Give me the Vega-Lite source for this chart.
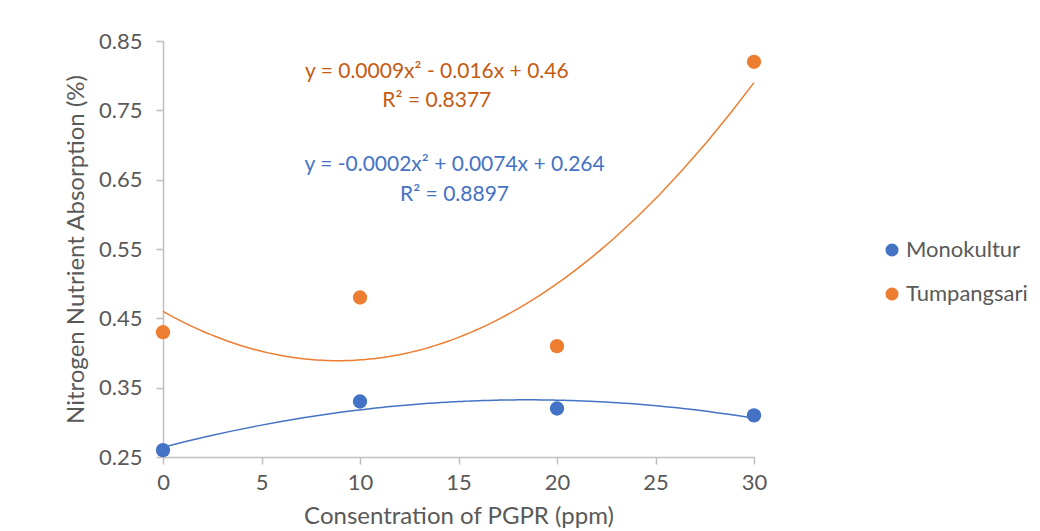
{
  "$schema": "https://vega.github.io/schema/vega-lite/v6.json",
  "autosize": {"type": "none"},
  "padding": {"left": 163, "top": 41, "right": 286, "bottom": 74},
  "width": 591,
  "height": 416,
  "background": "white",
  "config": {
    "view": {"stroke": null},
    "font": "Lato",
    "axis": {
      "grid": false,
      "domainColor": "#bfbfbf",
      "tickColor": "#bfbfbf",
      "domainWidth": 1.5,
      "tickWidth": 1.5,
      "tickSize": 7,
      "labelColor": "#595959",
      "titleColor": "#595959",
      "labelFont": "Lato",
      "titleFont": "Lato",
      "labelFontSize": 22,
      "titleFontSize": 24,
      "titleFontWeight": "normal",
      "labelFlush": false
    },
    "legend": {"labelFont": "Lato"}
  },
  "datasets": {
    "pts": [
      {"ppm": 0, "val": 0.26, "series": "Monokultur"},
      {"ppm": 10, "val": 0.33, "series": "Monokultur"},
      {"ppm": 20, "val": 0.32, "series": "Monokultur"},
      {"ppm": 30, "val": 0.31, "series": "Monokultur"},
      {"ppm": 0, "val": 0.43, "series": "Tumpangsari"},
      {"ppm": 10, "val": 0.48, "series": "Tumpangsari"},
      {"ppm": 20, "val": 0.41, "series": "Tumpangsari"},
      {"ppm": 30, "val": 0.82, "series": "Tumpangsari"}
    ]
  },
  "layer": [
    {
      "data": {"name": "pts"},
      "transform": [
        {"filter": "datum.series === 'Monokultur'"},
        {"regression": "val", "on": "ppm", "method": "poly", "order": 2, "extent": [0, 30]}
      ],
      "mark": {"type": "line", "color": "#4472C4", "strokeWidth": 1.5},
      "encoding": {
        "x": {"field": "ppm", "type": "quantitative"},
        "y": {"field": "val", "type": "quantitative"}
      }
    },
    {
      "data": {"name": "pts"},
      "transform": [
        {"filter": "datum.series === 'Tumpangsari'"},
        {"regression": "val", "on": "ppm", "method": "poly", "order": 2, "extent": [0, 30]}
      ],
      "mark": {"type": "line", "color": "#ED7D31", "strokeWidth": 1.5},
      "encoding": {
        "x": {"field": "ppm", "type": "quantitative"},
        "y": {"field": "val", "type": "quantitative"}
      }
    },
    {
      "data": {"name": "pts"},
      "mark": {"type": "circle", "size": 205, "opacity": 1},
      "encoding": {
        "x": {
          "field": "ppm", "type": "quantitative",
          "scale": {"domain": [0, 30], "nice": false, "zero": false},
          "axis": {"values": [0, 5, 10, 15, 20, 25, 30], "title": "Consentration of PGPR (ppm)", "labelPadding": 8, "titlePadding": 11}
        },
        "y": {
          "field": "val", "type": "quantitative",
          "scale": {"domain": [0.25, 0.85], "nice": false, "zero": false},
          "axis": {"values": [0.25, 0.35, 0.45, 0.55, 0.65, 0.75, 0.85], "format": ".2f", "title": "Nitrogen Nutrient Absorption (%)", "labelPadding": 14, "titlePadding": 10}
        },
        "color": {
          "field": "series", "type": "nominal",
          "scale": {"domain": ["Monokultur", "Tumpangsari"], "range": ["#4472C4", "#ED7D31"]},
          "legend": {
            "title": null, "orient": "none", "legendX": 718, "legendY": 198,
            "symbolType": "circle", "symbolSize": 170, "symbolOpacity": 1,
            "labelFontSize": 22, "labelColor": "#595959", "labelOffset": 3, "rowPadding": 22
          }
        }
      }
    },
    {
      "data": {"values": [
        {"tx": 13.9, "ty": 0.805, "label": "y = 0.0009x² - 0.016x + 0.46"},
        {"tx": 13.9, "ty": 0.763, "label": "R² = 0.8377"}
      ]},
      "mark": {"type": "text", "color": "#C55A11", "fontSize": 21, "font": "Lato", "align": "center", "baseline": "middle"},
      "encoding": {
        "x": {"field": "tx", "type": "quantitative"},
        "y": {"field": "ty", "type": "quantitative"},
        "text": {"field": "label"}
      }
    },
    {
      "data": {"values": [
        {"tx": 14.8, "ty": 0.671, "label": "y = -0.0002x² + 0.0074x + 0.264"},
        {"tx": 14.8, "ty": 0.628, "label": "R² = 0.8897"}
      ]},
      "mark": {"type": "text", "color": "#4472C4", "fontSize": 21, "font": "Lato", "align": "center", "baseline": "middle"},
      "encoding": {
        "x": {"field": "tx", "type": "quantitative"},
        "y": {"field": "ty", "type": "quantitative"},
        "text": {"field": "label"}
      }
    }
  ]
}
